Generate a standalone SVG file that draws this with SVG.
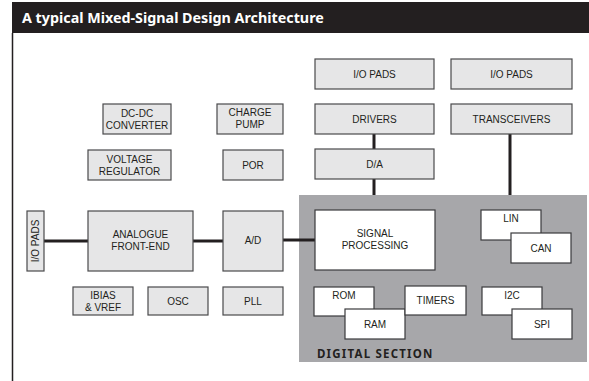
<svg xmlns="http://www.w3.org/2000/svg" width="589" height="381" viewBox="0 0 589 381">
  <style>
    .blk { fill: #e6e6e7; stroke: #4a4a4c; stroke-width: 1.2; }
    .dig { fill: #ffffff; stroke: #3a3a3c; stroke-width: 1.2; }
    .lbl { font-family: "Liberation Sans", Arial, sans-serif; font-size: 10px; fill: #231f20; text-anchor: middle; }
    .wire { stroke: #231f20; stroke-width: 3; fill: none; }
  </style>

  <!-- header bar and frame -->
  <rect x="12" y="2" width="577" height="31" fill="#231f20"/>
  <text x="22" y="23" font-family="'Noto Sans', 'Open Sans', sans-serif" font-size="14.3" font-weight="bold" fill="#ffffff">A typical Mixed-Signal Design Architecture</text>
  <line x1="12.5" y1="33" x2="12.5" y2="381" stroke="#231f20" stroke-width="1.5"/>

  <!-- digital section background -->
  <g id="digital-section">
    <rect x="299" y="195" width="288" height="167" fill="#a7a7aa"/>
    <text x="317" y="358" font-family="'Noto Sans', 'Open Sans', sans-serif" font-size="11.5" font-weight="bold" letter-spacing="1.2" fill="#231f20">DIGITAL SECTION</text>
  </g>

  <!-- connectors -->
  <g id="connectors">
    <line class="wire" x1="44" y1="241" x2="88" y2="241"/>
    <line class="wire" x1="193" y1="241" x2="223" y2="241"/>
    <line class="wire" x1="283" y1="240" x2="315" y2="240"/>
    <line class="wire" x1="374" y1="134" x2="374" y2="149"/>
    <line class="wire" x1="374" y1="179" x2="374" y2="195"/>
    <line class="wire" x1="510" y1="134" x2="510" y2="195"/>
  </g>

  <!-- analogue side -->
  <g id="dcdc">
    <rect class="blk" x="103" y="104" width="68" height="30"/>
    <text class="lbl" x="137" y="117">DC-DC</text>
    <text class="lbl" x="137" y="129">CONVERTER</text>
  </g>
  <g id="charge-pump">
    <rect class="blk" x="217" y="104" width="66" height="30"/>
    <text class="lbl" x="250" y="116">CHARGE</text>
    <text class="lbl" x="250" y="128">PUMP</text>
  </g>
  <g id="vreg">
    <rect class="blk" x="88" y="150" width="83" height="30"/>
    <text class="lbl" x="129.5" y="163">VOLTAGE</text>
    <text class="lbl" x="129.5" y="175">REGULATOR</text>
  </g>
  <g id="por">
    <rect class="blk" x="223" y="150" width="60" height="30"/>
    <text class="lbl" x="253" y="169">POR</text>
  </g>
  <g id="io-pads-left">
    <rect class="blk" x="27" y="211" width="17" height="60"/>
    <text class="lbl" transform="translate(39.2 241) rotate(-90)">I/O PADS</text>
  </g>
  <g id="afe">
    <rect class="blk" x="88" y="211" width="105" height="60"/>
    <text class="lbl" x="140.5" y="238">ANALOGUE</text>
    <text class="lbl" x="140.5" y="250">FRONT-END</text>
  </g>
  <g id="adc">
    <rect class="blk" x="223" y="211" width="60" height="60"/>
    <text class="lbl" x="253" y="244">A/D</text>
  </g>
  <g id="ibias">
    <rect class="blk" x="73" y="287" width="60" height="28"/>
    <text class="lbl" x="103" y="299">IBIAS</text>
    <text class="lbl" x="103" y="311">&amp; VREF</text>
  </g>
  <g id="osc">
    <rect class="blk" x="148" y="287" width="60" height="28"/>
    <text class="lbl" x="178" y="305">OSC</text>
  </g>
  <g id="pll">
    <rect class="blk" x="223" y="287" width="60" height="28"/>
    <text class="lbl" x="253" y="305">PLL</text>
  </g>

  <!-- output side -->
  <g id="io-pads-1">
    <rect class="blk" x="315" y="59" width="119" height="30"/>
    <text class="lbl" x="374.5" y="78">I/O PADS</text>
  </g>
  <g id="io-pads-2">
    <rect class="blk" x="451" y="59" width="121" height="30"/>
    <text class="lbl" x="511.5" y="78">I/O PADS</text>
  </g>
  <g id="drivers">
    <rect class="blk" x="315" y="104" width="119" height="30"/>
    <text class="lbl" x="374.5" y="123">DRIVERS</text>
  </g>
  <g id="transceivers">
    <rect class="blk" x="451" y="104" width="121" height="30"/>
    <text class="lbl" x="511.5" y="123">TRANSCEIVERS</text>
  </g>
  <g id="dac">
    <rect class="blk" x="315" y="149" width="119" height="30"/>
    <text class="lbl" x="374.5" y="168">D/A</text>
  </g>

  <!-- digital blocks -->
  <g id="signal-processing">
    <rect class="dig" x="315" y="210" width="120" height="60"/>
    <text class="lbl" x="375" y="237">SIGNAL</text>
    <text class="lbl" x="375" y="249">PROCESSING</text>
  </g>
  <g id="lin">
    <rect class="dig" x="481" y="210" width="60" height="30"/>
    <text class="lbl" x="511" y="222">LIN</text>
  </g>
  <g id="can">
    <rect class="dig" x="511" y="233" width="60" height="30"/>
    <text class="lbl" x="541" y="252">CAN</text>
  </g>
  <g id="rom">
    <rect class="dig" x="314" y="287" width="60" height="29"/>
    <text class="lbl" x="344" y="299">ROM</text>
  </g>
  <g id="ram">
    <rect class="dig" x="345" y="309" width="60" height="30"/>
    <text class="lbl" x="375" y="328">RAM</text>
  </g>
  <g id="timers">
    <rect class="dig" x="405" y="286" width="61" height="29"/>
    <text class="lbl" x="435.5" y="304">TIMERS</text>
  </g>
  <g id="i2c">
    <rect class="dig" x="482" y="287" width="60" height="28"/>
    <text class="lbl" x="512" y="299">I2C</text>
  </g>
  <g id="spi">
    <rect class="dig" x="512" y="309" width="60" height="30"/>
    <text class="lbl" x="542" y="328">SPI</text>
  </g>
</svg>
